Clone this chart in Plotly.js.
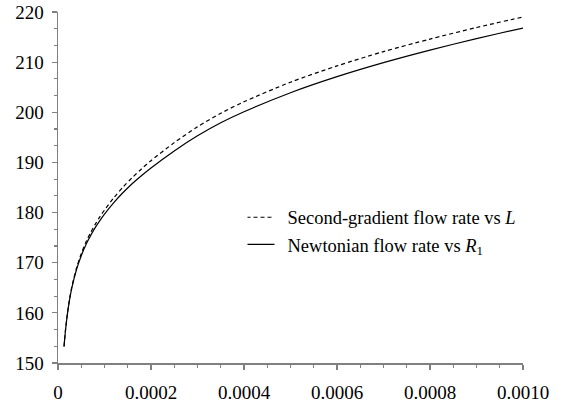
<!DOCTYPE html>
<html>
<head>
<meta charset="utf-8">
<script src="https://cdn.plot.ly/plotly-3.0.1.min.js"></script>
</head>
<body style="margin:0;background:#fff">
<div id="chart" style="width:578px;height:403px"></div>
<script>
// x values (L or R1)
var xValues = [0.000013, 0.000016, 0.00002, 0.000025, 0.00003, 0.00004, 0.00005, 0.00006, 0.00007, 0.00008, 0.00009, 0.0001, 0.00012, 0.00014, 0.00016, 0.00018, 0.0002, 0.00025, 0.0003, 0.00035, 0.0004, 0.0005, 0.0006, 0.0007, 0.0008, 0.0009, 0.001, 0.00102];
// Second-gradient flow rate vs L (dashed)
var secondGradient = [153.3, 156.45, 159.7, 162.85, 165.3, 169.0, 171.8, 174.1, 176.0, 177.65, 179.15, 180.5, 182.95, 185.1, 187.0, 188.75, 190.35, 193.95, 197.1, 199.8, 202.1, 206.0, 209.25, 212.1, 214.6, 216.9, 219.0, 219.4];
// Newtonian flow rate vs R1 (solid)
var newtonian = [153.3, 156.4, 159.6, 162.7, 165.1, 168.7, 171.4, 173.6, 175.4, 177.0, 178.4, 179.7, 182.0, 184.0, 185.8, 187.4, 188.9, 192.3, 195.3, 197.9, 200.1, 203.9, 207.1, 209.9, 212.4, 214.7, 216.8, 217.2];

var seriesNames = ["Second-gradient flow rate vs <i>L</i>", "Newtonian flow rate vs <i>R</i><sub>1</sub>"];
var xTickVals = [0, 0.0002, 0.0004, 0.0006, 0.0008, 0.001];
var xTickText = ["0", "0.0002", "0.0004", "0.0006", "0.0008", "0.0010"];
var yTickVals = [150, 160, 170, 180, 190, 200, 210, 220];

var axisColor = "#808080";

var traces = [
  {x: xValues, y: secondGradient, name: seriesNames[0], type: "scatter", mode: "lines",
   line: {color: "#000000", width: 1.2, dash: "4px,3px", shape: "spline", smoothing: 0.8}, cliponaxis: false},
  {x: xValues, y: newtonian, name: seriesNames[1], type: "scatter", mode: "lines",
   line: {color: "#000000", width: 1.2, shape: "spline", smoothing: 0.8}, cliponaxis: false}
];

var layout = {
  width: 578, height: 403,
  margin: {l: 58, r: 55, t: 12, b: 40},
  paper_bgcolor: "#ffffff", plot_bgcolor: "#ffffff",
  font: {family: "Liberation Serif", size: 19},
  showlegend: true,
  legend: {x: 0.4075, y: 0.468, xanchor: "left", yanchor: "top", bgcolor: "rgba(0,0,0,0)",
           font: {family: "Liberation Serif", size: 18.5, color: "#000000"}, tracegroupgap: 0},
  xaxis: {range: [0, 0.001], showgrid: false, zeroline: false, showline: true, linecolor: axisColor, linewidth: 1.5,
          ticks: "outside", ticklen: 5, tickcolor: axisColor, tickwidth: 1.2, ticklabelstandoff: 7,
          tickvals: xTickVals, ticktext: xTickText, tickfont: {family: "Liberation Serif", size: 19, color: "#000000"},
          minor: {dtick: 0.00005, ticks: "outside", ticklen: 3, tickcolor: axisColor, showgrid: false}},
  yaxis: {range: [150, 220], showgrid: false, zeroline: false, showline: true, linecolor: axisColor, linewidth: 1.5,
          ticks: "outside", ticklen: 5, tickcolor: axisColor, tickwidth: 1.2,
          tickvals: yTickVals, ticklabelstandoff: 4, tickfont: {family: "Liberation Serif", size: 19, color: "#000000"},
          minor: {tick0: 150, dtick: 10/3, ticks: "outside", ticklen: 3, tickcolor: axisColor, showgrid: false}}
};

function lengthenLegendLines() {
  var paths = document.querySelectorAll("#chart .legend .legendlines path");
  for (var i = 0; i < paths.length; i++) paths[i].setAttribute("d", "M-29,0h56");
}

Plotly.newPlot("chart", traces, layout, {displayModeBar: false, staticPlot: true}).then(lengthenLegendLines);
</script>
</body>
</html>
